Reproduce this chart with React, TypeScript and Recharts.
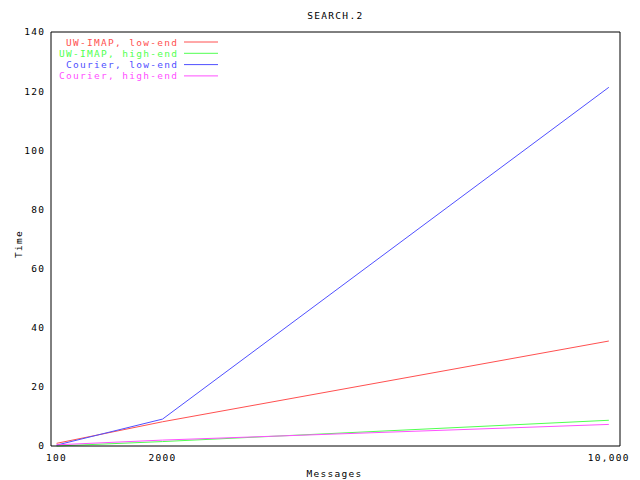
import React from 'react';
import { LineChart, Line, XAxis, YAxis, Legend } from 'recharts';

const messages = [100, 2000, 10000];
const uwImapLow = [0.9, 8.2, 35.5];
const uwImapHigh = [0, 1.5, 8.7];
const courierLow = [0.3, 9.1, 121.3];
const courierHigh = [0.4, 2.0, 7.3];

const xTicks = [100, 2000, 10000];
const xTickLabels = ['100', '2000', '10,000'];
const yTicks = [0, 20, 40, 60, 80, 100, 120, 140];

const FONT = "'DejaVu Sans Mono', monospace";
const FS = 9.5;
const LS = 1.3;

const series = [
  { key: 'uwLow', name: 'UW-IMAP, low-end', color: '#ff5050', values: uwImapLow },
  { key: 'uwHigh', name: 'UW-IMAP, high-end', color: '#50ff50', values: uwImapHigh },
  { key: 'courLow', name: 'Courier, low-end', color: '#5050ff', values: courierLow },
  { key: 'courHigh', name: 'Courier, high-end', color: '#ff50ff', values: courierHigh },
];

const chartData = messages.map((m, i) => {
  const row: Record<string, number> = { messages: m };
  series.forEach(s => {
    row[s.key] = s.values[i];
  });
  return row;
});

const fmtX = (v: number) => xTickLabels[xTicks.indexOf(v)] ?? String(v);
const blank = () => '';

// gnuplot style key: right aligned text, sample line after it
function LegendBox() {
  return (
    <svg width={230} height={50} style={{ display: 'block' }}>
      {series.map((s, i) => {
        const y = 6 + i * 11.3;
        return (
          <g key={s.key}>
            <text x={177 + LS} y={y} textAnchor="end" dominantBaseline="central"
              fontFamily={FONT} fontSize={FS} letterSpacing={LS} fill={s.color}>{s.name}</text>
            <line x1={184} x2={218} y1={y} y2={y} stroke={s.color} strokeWidth={1} />
          </g>
        );
      })}
    </svg>
  );
}

export default function App() {
  const domainX: [number, number] = [0, 10200];
  const domainY: [number, number] = [0, 140];
  const tickStyle = { fontFamily: FONT, fontSize: FS, fill: '#000', letterSpacing: LS };
  return (
    <div style={{ position: 'absolute', left: 0, top: 0, width: 640, height: 480, background: '#fff' }}>
      <svg width={640} height={30} style={{ position: 'absolute', left: 0, top: 0 }}>
        <text x={334.7 + LS / 2} y={18.5} textAnchor="middle" fontFamily={FONT} fontSize={FS}
          letterSpacing={LS} fill="#000">SEARCH.2</text>
      </svg>
      <LineChart width={640} height={480} data={chartData}
        margin={{ top: 32, right: 20, bottom: 0, left: 0 }}>
        <XAxis dataKey="messages" type="number" domain={domainX} ticks={xTicks}
          tickFormatter={fmtX} tickLine={false} tickSize={6} tickMargin={2}
          height={34} stroke="#000" tick={tickStyle} interval={0}
          label={{
            content: (props: any) => {
              const vb = props.viewBox;
              return (
                <text x={vb.x + vb.width / 2 - 1} y={vb.y + 27.5} textAnchor="middle"
                  dominantBaseline="central" fontFamily={FONT} fontSize={FS} letterSpacing={LS}
                  fill="#000">Messages</text>
              );
            },
          }} />
        <XAxis xAxisId="bottomTicks" type="number" domain={domainX} ticks={xTicks}
          mirror orientation="bottom" axisLine={false} tickSize={6} tickFormatter={blank}
          stroke="#000" interval={0} />
        <XAxis xAxisId="top" type="number" domain={domainX} ticks={xTicks}
          mirror orientation="top" tickSize={6} tickFormatter={blank}
          stroke="#000" interval={0} />
        <YAxis type="number" domain={domainY} ticks={yTicks} width={51}
          tickLine={false} tickSize={5} tickMargin={2 - LS} stroke="#000" tick={tickStyle} interval={0}
          label={{
            content: () => (
              <text x={18} y={244} textAnchor="middle" dominantBaseline="central"
                transform="rotate(-90, 18, 244)" fontFamily={FONT} fontSize={FS}
                letterSpacing={LS} fill="#000">Time</text>
            ),
          }} />
        <YAxis yAxisId="leftTicks" type="number" domain={domainY} ticks={yTicks}
          mirror orientation="left" axisLine={false} tickSize={6} tickFormatter={blank}
          stroke="#000" interval={0} />
        <YAxis yAxisId="right" type="number" domain={domainY} ticks={yTicks}
          mirror orientation="right" tickSize={6} tickFormatter={blank}
          stroke="#000" interval={0} />
        <Legend layout="horizontal" verticalAlign="middle" align="center"
          wrapperStyle={{ position: 'absolute', top: 36, left: 0, width: 230, height: 50 }}
          content={<LegendBox />} />
        {series.map(s => (
          <Line key={s.key} dataKey={s.key} name={s.name} stroke={s.color} strokeWidth={1}
            dot={false} activeDot={false} isAnimationActive={false} type="linear" />
        ))}
      </LineChart>
    </div>
  );
}
